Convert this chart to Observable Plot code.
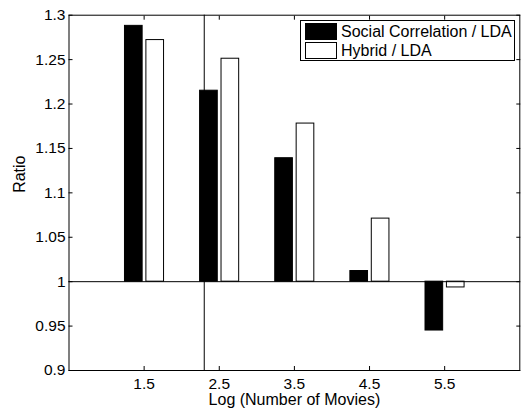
<!DOCTYPE html>
<html>
<head>
<meta charset="utf-8">
<script src="https://cdn.jsdelivr.net/npm/d3@7"></script>
<script src="https://cdn.jsdelivr.net/npm/@observablehq/plot@0.6"></script>
<style>
  body { margin: 0; background: #fff; }
  #wrap { position: relative; width: 527px; height: 410px; font-family: "Liberation Sans", Arial, sans-serif; }
  #legend { position: absolute; left: 300px; top: 20px; width: 213px; height: 39px; border: 1px solid #000; background: #fff; font-size: 16px; }
  .row { position: absolute; left: 4px; height: 17px; display: flex; align-items: center; white-space: nowrap; }
  .sw { width: 30px; height: 15px; border: 1px solid #000; margin-right: 4px; box-sizing: content-box; }
</style>
</head>
<body>
<div id="wrap"></div>
<script>
const groups = [1.5, 2.5, 3.5, 4.5, 5.5];
const socialCorrelation = [1.288, 1.215, 1.139, 1.012, 0.945];
const hybrid = [1.272, 1.251, 1.178, 1.071, 0.9935];
const seriesNames = ["Social Correlation / LDA", "Hybrid / LDA"];
const seriesFills = ["#000", "#fff"];
const xTicks = [1.5, 2.5, 3.5, 4.5, 5.5];
const xTickLabels = ["1.5", "2.5", "3.5", "4.5", "5.5"];
const yTicks = [0.9, 0.95, 1, 1.05, 1.1, 1.15, 1.2, 1.25, 1.3];
const yTickLabels = ["0.9", "0.95", "1", "1.05", "1.1", "1.15", "1.2", "1.25", "1.3"];
const markerX = 2.3;
const baseline = 1;

const bars = [];
groups.forEach((g, i) => {
  bars.push({g, s: 0, v: socialCorrelation[i]});
  bars.push({g, s: 1, v: hybrid[i]});
});

const fmtX = d => xTickLabels[xTicks.indexOf(d)];
const fmtY = d => yTickLabels[yTicks.findIndex(t => Math.abs(t - d) < 1e-9)];

const chart = Plot.plot({
  width: 527,
  height: 410,
  marginLeft: 68.5,
  marginRight: 7.7,
  marginTop: 14.7,
  marginBottom: 40,
  style: {fontFamily: "'Liberation Sans', Arial, sans-serif", fontSize: "15.5px", background: "#fff", color: "#000"},
  x: {domain: [0.5, 6.5]},
  y: {domain: [0.9, 1.3]},
  marks: [
    Plot.rect(bars, {
      x1: d => d.s === 0 ? d.g - 0.255 : d.g + 0.03,
      x2: d => d.s === 0 ? d.g - 0.02 : d.g + 0.265,
      y1: baseline,
      y2: "v",
      fill: d => seriesFills[d.s],
      stroke: "#000",
      strokeWidth: 1
    }),
    Plot.ruleY([baseline], {stroke: "#000", strokeWidth: 1}),
    Plot.ruleX([markerX], {stroke: "#000", strokeWidth: 1}),
    Plot.frame({stroke: "#000", strokeWidth: 1}),
    Plot.axisX(xTicks, {anchor: "bottom", tickSize: 0, tickPadding: 7.5, tickFormat: fmtX, label: null, fontSize: 15.5}),
    Plot.axisX(xTicks, {anchor: "bottom", tickSize: -4, tickFormat: () => "", label: null}),
    Plot.axisX(xTicks, {anchor: "top", tickSize: -4, tickFormat: () => "", label: null}),
    Plot.axisY(yTicks, {anchor: "left", tickSize: 0, tickPadding: 3.5, tickFormat: fmtY, label: null, fontSize: 15.5}),
    Plot.axisY(yTicks, {anchor: "left", tickSize: -4, tickFormat: () => "", label: null}),
    Plot.axisY(yTicks, {anchor: "right", tickSize: -4, tickFormat: () => "", label: null}),
    Plot.text(["Log (Number of Movies)"], {frameAnchor: "bottom", dy: 29.5, text: d => d, fontSize: 16, lineAnchor: "middle"}),
    Plot.text(["Ratio"], {frameAnchor: "left", dx: -49.5, rotate: -90, text: d => d, fontSize: 16, lineAnchor: "middle"})
  ]
});

const wrap = document.getElementById("wrap");
wrap.appendChild(chart);

const legend = document.createElement("div");
legend.id = "legend";
seriesNames.forEach((name, i) => {
  const row = document.createElement("div");
  row.className = "row";
  row.style.top = (2 + i * 19) + "px";
  const sw = document.createElement("div");
  sw.className = "sw";
  sw.style.background = seriesFills[i];
  const t = document.createElement("span");
  t.textContent = name;
  row.appendChild(sw);
  row.appendChild(t);
  legend.appendChild(row);
});
wrap.appendChild(legend);
</script>
</body>
</html>
